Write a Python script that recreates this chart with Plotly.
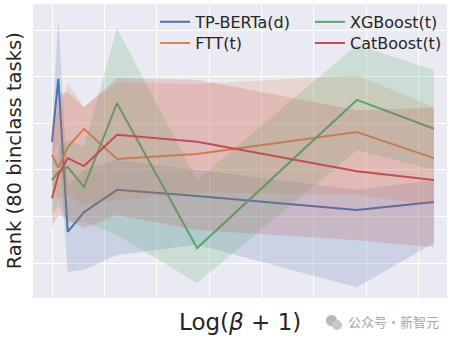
import plotly.graph_objects as go

# log(beta + 1) sample positions
log_beta = [0.0, 0.12, 0.3, 0.61, 1.24, 2.77, 5.82, 7.29]

# mean rank and confidence band for each method
tpberta_mean = [4.60, 5.95, 2.67, 3.09, 3.57, 3.44, 3.14, 3.31]
tpberta_hi = [4.90, 7.26, 3.67, 4.00, 4.21, 4.00, 3.57, 3.78]
tpberta_lo = [4.21, 4.58, 1.81, 1.85, 2.17, 2.39, 1.48, 2.43]

ftt_mean = [4.32, 4.04, 4.49, 4.88, 4.23, 4.34, 4.81, 4.25]
ftt_hi = [4.96, 5.28, 5.86, 5.35, 5.88, 5.84, 6.03, 5.35]
ftt_lo = [3.67, 3.35, 3.46, 3.24, 3.35, 3.52, 3.46, 3.24]

xgb_mean = [3.78, 3.95, 4.06, 3.63, 5.43, 2.32, 5.50, 4.88]
xgb_hi = [4.21, 4.42, 4.64, 4.49, 7.04, 3.78, 6.68, 6.14]
xgb_lo = [3.03, 3.24, 2.88, 2.88, 2.60, 1.57, 4.42, 4.00]

cat_mean = [3.39, 3.89, 4.25, 4.08, 4.75, 4.60, 3.97, 3.78]
cat_hi = [4.42, 5.61, 5.67, 5.35, 5.97, 5.93, 5.28, 5.33]
cat_lo = [2.77, 3.03, 2.92, 2.75, 3.03, 2.71, 2.49, 2.34]

# name, values, colour, legend slot (two columns, two rows)
series = [
    ("TP-BERTa(d)", tpberta_mean, tpberta_hi, tpberta_lo, (76, 114, 176), "legend"),
    ("FTT(t)", ftt_mean, ftt_hi, ftt_lo, (221, 132, 82), "legend2"),
    ("XGBoost(t)", xgb_mean, xgb_hi, xgb_lo, (85, 168, 104), "legend3"),
    ("CatBoost(t)", cat_mean, cat_hi, cat_lo, (196, 78, 82), "legend4"),
]

fig = go.Figure()
for name, mean, hi, lo, (r, g, b), leg in series:
    fig.add_trace(go.Scatter(
        x=log_beta, y=mean, mode="lines", name=name, legend=leg,
        line=dict(color=f"rgb({r},{g},{b})", width=2),
    ))
    fig.add_trace(go.Scatter(
        x=log_beta + log_beta[::-1], y=hi + lo[::-1],
        mode="lines", fill="toself", line=dict(width=0),
        fillcolor=f"rgba({r},{g},{b},0.2)", showlegend=False, hoverinfo="skip",
    ))

legend_style = dict(
    bgcolor="rgba(0,0,0,0)", borderwidth=0, yanchor="middle", xanchor="left",
    font=dict(family="DejaVu Sans", size=16, color="#262626"),
    itemwidth=30,
)
col1, col2 = 0.295, 0.669
row1, row2 = 0.939, 0.867

fig.update_layout(
    width=455, height=338,
    margin=dict(l=33, r=8, t=4, b=40),
    paper_bgcolor="white", plot_bgcolor="#EAEAF2",
    font=dict(family="DejaVu Sans", color="#262626"),
    legend=dict(x=col1, y=row1, **legend_style),
    legend2=dict(x=col1, y=row2, **legend_style),
    legend3=dict(x=col2, y=row1, **legend_style),
    legend4=dict(x=col2, y=row2, **legend_style),
    xaxis=dict(
        range=[-0.363, 7.54], tick0=0, dtick=1, showticklabels=False,
        showgrid=True, gridcolor="white", gridwidth=1.2, zeroline=False,
        showline=False, ticks="",
    ),
    yaxis=dict(
        range=[1.249, 7.558], tick0=0, dtick=1, showticklabels=False,
        showgrid=True, gridcolor="white", gridwidth=1.2, zeroline=False,
        showline=False, ticks="",
    ),
)

# axis titles
fig.add_annotation(
    text="Log(<i>β</i> + 1)", xref="paper", yref="paper", x=0.5, y=-0.08,
    yanchor="middle", showarrow=False,
    font=dict(family="DejaVu Sans", size=23, color="#262626"),
)
fig.add_annotation(
    text="Rank (80 binclass tasks)", xref="paper", yref="paper", x=-0.045, y=0.5,
    textangle=-90, showarrow=False, xanchor="center",
    font=dict(family="DejaVu Sans", size=19.5, color="#262626"),
)

# watermark
fig.add_shape(type="circle", xref="paper", yref="paper",
              x0=(326 - 33) / 414, x1=(337 - 33) / 414,
              y0=(298 - 326) / 294, y1=(298 - 315) / 294,
              fillcolor="#B8B8B8", line=dict(width=0))
fig.add_shape(type="circle", xref="paper", yref="paper",
              x0=(332 - 33) / 414, x1=(342 - 33) / 414,
              y0=(298 - 330) / 294, y1=(298 - 320) / 294,
              fillcolor="#C8C8C8", line=dict(width=0))
fig.add_annotation(
    text="公众号·新智元", xref="paper", yref="paper",
    x=(346 - 33) / 414, y=(298 - 321) / 294, xanchor="left", yanchor="middle",
    showarrow=False,
    font=dict(family="Noto Sans CJK SC", size=13, color="#A8A8A8"),
)

fig.write_html("out.html")
